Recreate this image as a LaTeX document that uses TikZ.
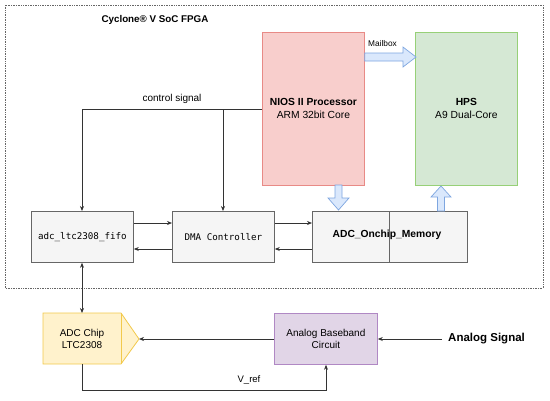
\documentclass[tikz,border=0pt]{standalone}
\usepackage{fontspec}
\setmainfont{Liberation Sans}
\newfontfamily\monofont{DejaVu Sans Mono}
\usetikzlibrary{arrows.meta}
\definecolor{grayfill}{HTML}{F5F5F5}
\definecolor{graystroke}{HTML}{666666}
\definecolor{redfill}{HTML}{F8CECC}
\definecolor{redstroke}{HTML}{E88A86}
\definecolor{greenfill}{HTML}{D5E8D4}
\definecolor{greenstroke}{HTML}{97D077}
\definecolor{yellowfill}{HTML}{FFF2CC}
\definecolor{yellowstroke}{HTML}{F2C94C}
\definecolor{purplefill}{HTML}{E1D5E7}
\definecolor{purplestroke}{HTML}{B088C4}
\definecolor{bluefill}{HTML}{DAE8FC}
\definecolor{bluestroke}{HTML}{7EA6E0}
\definecolor{linecol}{HTML}{333333}
\tikzset{
  graybox/.style={draw=graystroke, fill=grayfill, line width=0.8pt, minimum width=102pt, minimum height=51pt, inner sep=0pt, anchor=north west},
  procbox/.style={line width=0.8pt, minimum width=102pt, minimum height=153pt, inner sep=0pt, anchor=north west, align=center, font=\fontsize{10.3}{13}\selectfont},
  conn/.style={draw=linecol, line width=0.7pt, -{Stealth[length=5pt,width=4pt]}},
  bidir/.style={draw=linecol, line width=0.7pt, {Stealth[length=5pt,width=4pt]}-{Stealth[length=5pt,width=4pt]}},
  blockarrow/.style={draw=bluestroke, fill=bluefill, line width=0.7pt},
  lbl/.style={font=\fontsize{10}{12}\selectfont, inner sep=0pt}
}
\begin{document}
\begin{tikzpicture}[x=1pt,y=-1pt]
\useasboundingbox (0,0) rectangle (550,400);
% FPGA region
\draw[graystroke, densely dotted, line width=0.7pt] (5,5) rectangle (543,288);
\node[font=\bfseries\fontsize{9.8}{12}\selectfont, inner sep=0pt] (title) at (155,20) {Cyclone® V SoC FPGA};
% processors
\node[procbox, draw=redstroke, fill=redfill] (nios) at (262,32) {\textbf{NIOS II Processor}\\ARM 32bit Core};
\node[procbox, draw=greenstroke, fill=greenfill] (hps) at (415,32) {\textbf{HPS}\\A9 Dual-Core};
% gray boxes
\node[graybox, font=\monofont\fontsize{9.2}{11}\selectfont] (fifo) at (31,211) {adc\_ltc2308\_fifo};
\node[graybox, font=\monofont\fontsize{9.2}{11}\selectfont] (dma) at (172,211) {DMA Controller};
\node[graybox, minimum width=155pt] (mem) at (312,211) {};
\node[font=\bfseries\fontsize{10.3}{12}\selectfont, inner sep=0pt] (memlbl) at (387,235) {ADC\_Onchip\_Memory};
\draw[graystroke, line width=0.8pt] (389,211) -- (389,262);
% block arrows
\draw[blockarrow] (nios.east |- 0,53) -- (403,53) -- (403,47) -- (416,57) -- (403,67) -- (403,61) -- (nios.east |- 0,61) -- cycle;
\node[lbl, font=\fontsize{8.3}{10}\selectfont] (mailbox) at (382.5,44) {Mailbox};
\draw[blockarrow] (335,185) -- (335,198) -- (328,198) -- (338.5,210) -- (349,198) -- (342,198) -- (342,185) -- cycle;
\draw[blockarrow] (437.5,211) -- (437.5,197) -- (431,197) -- (441,186) -- (451,197) -- (444.5,197) -- (444.5,211) -- cycle;
% control signal
\coordinate (c1) at (82,109);
\coordinate (c2) at (223,109);
\draw[linecol, line width=0.7pt] (nios.west |- c1) -- (c1);
\draw[conn] (c1) -- (fifo.north -| c1);
\draw[conn] (c2) -- (dma.north -| c2);
\node[lbl] (ctrl) at (172,99) {control signal};
% data arrows
\draw[conn] (fifo.east |- 0,223) -- (dma.west |- 0,223);
\draw[conn] (dma.west |- 0,249) -- (fifo.east |- 0,249);
\draw[conn] (dma.east |- 0,223) -- (mem.west |- 0,223);
\draw[conn] (mem.west |- 0,249) -- (dma.east |- 0,249);
% ADC chip
\draw[draw=yellowstroke, fill=yellowfill, line width=0.8pt] (43,313) -- (121,313) -- (139,339) -- (121,364) -- (43,364) -- cycle;
\draw[yellowstroke, line width=0.8pt] (121,313) -- (121,364);
\node[align=center, font=\fontsize{10}{12}\selectfont, inner sep=0pt] (adc) at (82,339) {ADC Chip\\LTC2308};
\coordinate (adctip) at (139,339);
\coordinate (adctop) at (82,313);
\coordinate (adcbot) at (82,364);
% analog baseband
\node[draw=purplestroke, fill=purplefill, line width=0.8pt, minimum width=103pt, minimum height=51pt, inner sep=0pt, anchor=north west, align=center, font=\fontsize{10}{12}\selectfont] (abb) at (274,313) {Analog Baseband\\Circuit};
\node[font=\bfseries\fontsize{11.5}{13}\selectfont, inner sep=0pt, anchor=west] (asig) at (448,339) {Analog Signal};
\coordinate (asigin) at (442,339);
\draw[conn] (asigin) -- (abb.east |- asigin);
\draw[conn] (abb.west |- adctip) -- (adctip);
\draw[bidir] (fifo.south -| adctop) -- (adctop);
\coordinate (v1) at (82,390);
\coordinate (v2) at (326,390);
\draw[conn] (adcbot) -- (v1) -- (v2) -- (abb.south -| v2);
\node[lbl, font=\fontsize{9.5}{11}\selectfont] (vref) at (249,380) {V\_ref};
\end{tikzpicture}
\end{document}
